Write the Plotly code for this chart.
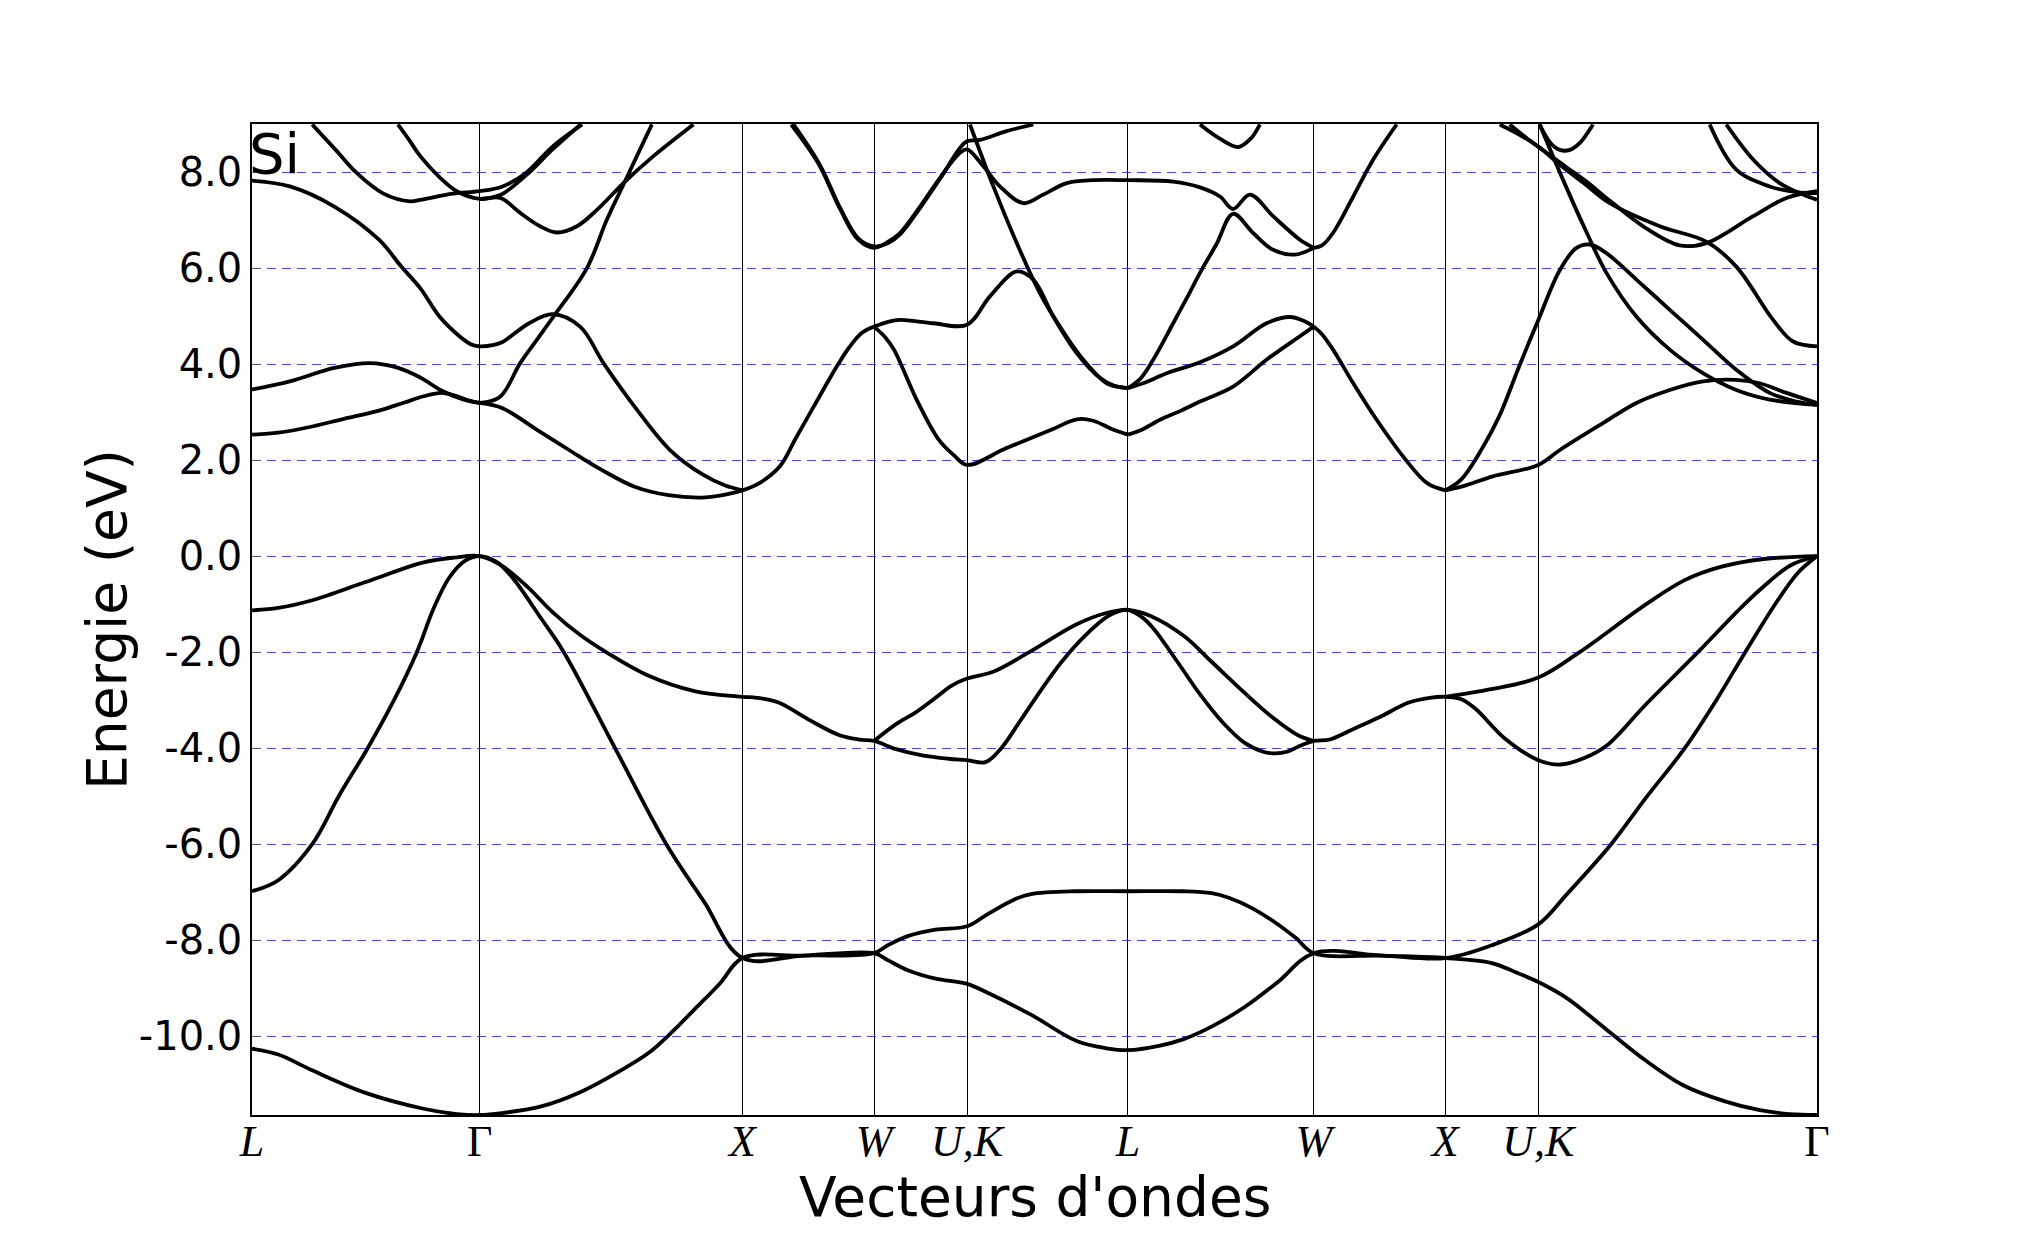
import plotly.graph_objects as go

# high-symmetry points along the path (units of 2*pi/a)
kpoint_pos = [0.0, 0.866, 1.866, 2.366, 2.720, 3.332, 4.039, 4.539, 4.893, 5.953]
kpoint_lbl = ["<i>L</i>", "Γ", "<i>X</i>", "<i>W</i>", "<i>U,K</i>",
              "<i>L</i>", "<i>W</i>", "<i>X</i>", "<i>U,K</i>", "Γ"]

energy_ticks = [-10, -8, -6, -4, -2, 0, 2, 4, 6, 8]
energy_lbl = ["-10.0", "-8.0", "-6.0", "-4.0", "-2.0", "0.0", "2.0", "4.0", "6.0", "8.0"]

# ---- valence bands (k, E in eV) ----
v1 = [(0.0, -10.26), (0.1, -10.38), (0.229, -10.71), (0.432, -11.18), (0.653, -11.51), (0.78, -11.62), (0.866, -11.64),
      (0.95, -11.6), (1.1, -11.46), (1.246, -11.17), (1.4, -10.72), (1.508, -10.35), (1.6, -9.9), (1.683, -9.44),
      (1.78, -8.9), (1.866, -8.37), (2.1, -8.32), (2.366, -8.27), (2.42, -8.42), (2.497, -8.63), (2.6, -8.8),
      (2.72, -8.91), (2.8, -9.1), (2.963, -9.55), (3.137, -10.1), (3.25, -10.25), (3.332, -10.29), (3.45, -10.2),
      (3.544, -10.06), (3.65, -9.8), (3.776, -9.39), (3.9, -8.88), (4.039, -8.27), (4.3, -8.32), (4.539, -8.37),
      (4.713, -8.47), (4.8, -8.65), (4.893, -8.87), (5.0, -9.2), (5.152, -9.86), (5.3, -10.5), (5.444, -11.02),
      (5.6, -11.35), (5.736, -11.54), (5.85, -11.62), (5.953, -11.64)]

v2 = [(0.0, -6.98), (0.1, -6.75), (0.229, -6.0), (0.33, -5.0), (0.44, -4.0), (0.54, -3.0), (0.627, -2.0),
      (0.69, -1.1), (0.75, -0.45), (0.81, -0.1), (0.866, 0.0), (0.93, -0.12), (0.991, -0.45), (1.1, -1.3),
      (1.186, -2.0), (1.381, -4.0), (1.576, -6.0), (1.72, -7.2), (1.866, -8.37), (2.1, -8.32), (2.366, -8.27),
      (2.42, -8.1), (2.497, -7.91), (2.6, -7.78), (2.72, -7.71), (2.8, -7.45), (2.9, -7.15), (2.963, -7.04),
      (3.137, -6.98), (3.332, -6.98), (3.544, -6.98), (3.65, -7.02), (3.718, -7.12), (3.8, -7.32), (3.892, -7.63),
      (3.97, -7.95), (4.039, -8.27), (4.3, -8.32), (4.539, -8.37), (4.713, -8.11), (4.893, -7.67), (5.0, -7.05),
      (5.17, -6.0), (5.3, -5.05), (5.45, -4.0), (5.57, -3.0), (5.68, -2.0), (5.8, -0.95), (5.88, -0.35), (5.953, 0.0)]

v3 = [(0.0, -1.13), (0.1, -1.08), (0.229, -0.92), (0.432, -0.54), (0.653, -0.13), (0.77, -0.03), (0.866, 0.0),
      (0.95, -0.2), (1.05, -0.65), (1.14, -1.15), (1.25, -1.65), (1.347, -2.0), (1.5, -2.47), (1.683, -2.81),
      (1.866, -2.93), (1.92, -2.95), (2.003, -3.05), (2.119, -3.41), (2.235, -3.73), (2.31, -3.82), (2.366, -3.85),
      (2.45, -4.02), (2.55, -4.15), (2.65, -4.22), (2.72, -4.25), (2.79, -4.29), (2.85, -4.0), (2.92, -3.45),
      (3.0, -2.8), (3.08, -2.2), (3.17, -1.65), (3.253, -1.26), (3.3, -1.14), (3.332, -1.12), (3.38, -1.25),
      (3.428, -1.5), (3.52, -2.2), (3.602, -2.85), (3.69, -3.45), (3.776, -3.89), (3.85, -4.08), (3.892, -4.11),
      (3.94, -4.07), (3.979, -3.97), (4.039, -3.85), (4.1, -3.82), (4.19, -3.6), (4.29, -3.35), (4.4, -3.05),
      (4.48, -2.95), (4.539, -2.93), (4.6, -2.98), (4.652, -3.17), (4.768, -3.81), (4.893, -4.25), (4.978, -4.34),
      (5.07, -4.2), (5.152, -3.95), (5.3, -3.1), (5.5, -2.0), (5.65, -1.15), (5.736, -0.7), (5.85, -0.2), (5.953, 0.0)]

v4_a = [(2.366, -3.85), (2.45, -3.5), (2.526, -3.25), (2.6, -2.95), (2.66, -2.7), (2.72, -2.55), (2.819, -2.41),
        (2.963, -1.98), (3.137, -1.42), (3.253, -1.18), (3.332, -1.12), (3.42, -1.25), (3.544, -1.66), (3.65, -2.2),
        (3.776, -2.85), (3.88, -3.35), (3.979, -3.73), (4.039, -3.85)]
v4_b = [(4.539, -2.93), (4.713, -2.77), (4.893, -2.53), (5.05, -2.0), (5.298, -1.02), (5.45, -0.5), (5.59, -0.22),
        (5.75, -0.06), (5.953, 0.0)]

# ---- conduction bands ----
c01 = [(0.0, 2.53), (0.1, 2.57), (0.229, 2.70), (0.35, 2.86), (0.483, 3.03), (0.58, 3.2), (0.653, 3.33),
       (0.72, 3.40), (0.78, 3.33), (0.83, 3.23), (0.866, 3.19)]
c02 = [(0.0, 3.47), (0.144, 3.64), (0.313, 3.92), (0.449, 4.02), (0.55, 3.93), (0.64, 3.72), (0.72, 3.45),
       (0.8, 3.27), (0.866, 3.19)]
c03 = [(0.0, 7.82), (0.144, 7.70), (0.313, 7.28), (0.483, 6.59), (0.568, 6.03), (0.64, 5.58), (0.713, 4.99),
       (0.789, 4.58), (0.83, 4.42), (0.866, 4.37), (0.92, 4.40), (0.953, 4.46), (1.054, 4.85), (1.143, 5.04),
       (1.248, 4.78), (1.337, 4.02), (1.464, 3.05), (1.590, 2.21), (1.717, 1.69), (1.8, 1.47), (1.866, 1.37)]
c04 = [(0.866, 3.19), (0.953, 3.08), (1.084, 2.63), (1.206, 2.21), (1.332, 1.79), (1.458, 1.44), (1.584, 1.27),
       (1.71, 1.22), (1.79, 1.27), (1.866, 1.37)]
c05 = [(0.866, 3.19), (0.944, 3.32), (1.020, 4.02), (1.084, 4.51), (1.147, 4.99), (1.274, 6.0), (1.350, 7.01),
       (1.413, 7.74), (1.464, 8.33), (1.521, 8.99)]
c06 = [(0.555, 8.99), (0.60, 8.65), (0.640, 8.33), (0.716, 7.88), (0.779, 7.60), (0.866, 7.44), (0.944, 7.46),
       (1.020, 7.15), (1.096, 6.87), (1.160, 6.74), (1.236, 6.87), (1.312, 7.21), (1.413, 7.77), (1.527, 8.33),
       (1.679, 8.99)]
c07 = [(0.229, 8.99), (0.32, 8.45), (0.398, 7.98), (0.5, 7.55), (0.602, 7.39), (0.64, 7.42), (0.764, 7.55),
       (0.866, 7.60), (0.953, 7.70), (1.042, 7.98), (1.143, 8.53), (1.256, 8.99)]
c08 = [(0.866, 7.44), (0.944, 7.52), (1.042, 7.93), (1.143, 8.47), (1.25, 8.99)]
c09 = [(1.866, 1.37), (1.93, 1.52), (2.008, 1.87), (2.068, 2.45), (2.13, 3.05), (2.187, 3.6), (2.23, 4.0),
       (2.272, 4.35), (2.32, 4.65), (2.366, 4.78)]
c10 = [(2.366, 4.78), (2.42, 4.88), (2.465, 4.92), (2.592, 4.85), (2.72, 4.82), (2.807, 5.41), (2.909, 5.93),
       (2.972, 5.76), (3.048, 4.99), (3.137, 4.23), (3.226, 3.71), (3.28, 3.55), (3.332, 3.50)]
c11 = [(2.366, 4.78), (2.41, 4.55), (2.442, 4.30), (2.528, 3.26), (2.613, 2.42), (2.67, 2.1), (2.72, 1.90),
       (2.87, 2.25), (3.04, 2.63), (3.137, 2.85), (3.2, 2.82), (3.27, 2.65), (3.332, 2.53)]
c12 = [(2.051, 8.99), (2.153, 8.19), (2.238, 7.22), (2.306, 6.59), (2.366, 6.42), (2.42, 6.55), (2.465, 6.73),
       (2.541, 7.28), (2.617, 7.88), (2.693, 8.40), (2.72, 8.47), (2.782, 8.12), (2.845, 7.70), (2.934, 7.35),
       (3.010, 7.53), (3.099, 7.77), (3.2, 7.83), (3.332, 7.83), (3.504, 7.80), (3.606, 7.68), (3.682, 7.49),
       (3.732, 7.23), (3.796, 7.53), (3.884, 7.08), (3.986, 6.59), (4.039, 6.42)]
c13 = [(2.06, 8.99), (2.16, 8.15), (2.24, 7.22), (2.306, 6.62), (2.366, 6.45), (2.42, 6.52), (2.465, 6.70),
       (2.541, 7.25), (2.617, 7.86), (2.693, 8.50), (2.72, 8.64), (2.77, 8.67), (2.87, 8.85), (2.972, 8.99)]
c14 = [(2.731, 8.99), (2.820, 7.70), (2.909, 6.52), (2.997, 5.48), (3.073, 4.78), (3.162, 4.09), (3.251, 3.60),
       (3.30, 3.52), (3.332, 3.50)]
c15 = [(3.332, 3.50), (3.38, 3.7), (3.428, 4.09), (3.504, 4.85), (3.568, 5.5), (3.606, 5.9), (3.669, 6.5),
       (3.732, 7.13), (3.808, 6.73), (3.884, 6.38), (3.967, 6.28), (4.039, 6.42)]
c16 = [(3.332, 3.50), (3.40, 3.62), (3.479, 3.81), (3.606, 4.04), (3.732, 4.37), (3.859, 4.85), (3.948, 4.98),
       (4.0, 4.9), (4.039, 4.78)]
c17 = [(3.332, 2.53), (3.38, 2.62), (3.454, 2.84), (3.53, 3.02), (3.606, 3.22), (3.732, 3.53), (3.859, 4.09),
       (3.986, 4.58), (4.039, 4.78)]
c18 = [(3.606, 8.99), (3.68, 8.7), (3.751, 8.52), (3.80, 8.7), (3.834, 8.99)]
c19 = [(4.039, 6.42), (4.07, 6.47), (4.112, 6.73), (4.189, 7.49), (4.265, 8.26), (4.354, 8.99)]
c20 = [(4.039, 4.78), (4.07, 4.62), (4.112, 4.30), (4.189, 3.60), (4.278, 2.84), (4.388, 2.01), (4.470, 1.52),
       (4.539, 1.37)]
c21 = [(4.539, 1.37), (4.6, 1.6), (4.68, 2.25), (4.744, 2.91), (4.820, 3.95), (4.893, 4.92), (4.975, 5.96),
       (5.038, 6.42), (5.089, 6.49), (5.152, 6.31), (5.266, 5.76), (5.393, 5.13), (5.519, 4.51), (5.646, 3.88),
       (5.773, 3.40), (5.875, 3.22), (5.953, 3.15)]
c22 = [(4.898, 8.99), (4.99, 7.8), (5.076, 6.75), (5.152, 5.9), (5.266, 4.99), (5.393, 4.30), (5.519, 3.81),
       (5.646, 3.46), (5.773, 3.26), (5.953, 3.15)]
c23 = [(4.539, 1.37), (4.62, 1.48), (4.72, 1.66), (4.893, 1.90), (4.975, 2.21), (5.139, 2.77), (5.266, 3.19),
       (5.393, 3.46), (5.519, 3.64), (5.646, 3.67), (5.735, 3.60), (5.837, 3.40), (5.953, 3.19)]
c24 = [(4.746, 8.99), (4.82, 8.78), (4.893, 8.53), (4.975, 8.15), (5.07, 7.75), (5.165, 7.35), (5.355, 6.87),
       (5.532, 6.55), (5.646, 6.03), (5.786, 4.92), (5.862, 4.47), (5.953, 4.37)]
c25 = [(4.784, 8.99), (4.85, 8.7), (4.924, 8.40), (5.0, 8.1), (5.076, 7.8), (5.165, 7.4), (5.305, 6.82),
       (5.431, 6.47), (5.532, 6.52), (5.710, 7.08), (5.837, 7.46), (5.953, 7.60)]
c26 = [(5.545, 8.99), (5.646, 8.05), (5.773, 7.70), (5.875, 7.58), (5.953, 7.56)]
c27 = [(5.608, 8.99), (5.710, 8.26), (5.811, 7.77), (5.900, 7.53), (5.953, 7.42)]
c28 = [(4.898, 8.99), (4.94, 8.6), (4.975, 8.46), (5.013, 8.46), (5.05, 8.6), (5.101, 8.99)]

bands = [v1, v2, v3, v4_a, v4_b,
         c01, c02, c03, c04, c05, c06, c07, c08, c09, c10, c11, c12, c13, c14,
         c15, c16, c17, c18, c19, c20, c21, c22, c23, c24, c25, c26, c27, c28]

fig = go.Figure()
for band in bands:
    fig.add_trace(go.Scatter(
        x=[p[0] for p in band],
        y=[p[1] for p in band],
        mode="lines",
        line=dict(color="black", width=3.8, shape="spline", smoothing=1.0),
        hoverinfo="skip",
        showlegend=False,
    ))

# material label in the top-left corner of the axes
fig.add_annotation(
    text="Si", xref="paper", yref="paper", x=0.0, y=1.0,
    xanchor="left", yanchor="top", showarrow=False, borderpad=0,
    xshift=-4, yshift=4,
    font=dict(family="DejaVu Sans", size=56, color="black"),
)

# axis titles placed as annotations so their position is exact
fig.add_annotation(
    text="Energie (eV)", xref="paper", yref="paper", x=-0.093, y=0.5,
    xanchor="center", yanchor="middle", textangle=-90, showarrow=False,
    font=dict(family="DejaVu Sans", size=55, color="black"),
)
fig.add_annotation(
    text="Vecteurs d'ondes", xref="paper", yref="paper", x=0.5, y=-0.083,
    xanchor="center", yanchor="middle", showarrow=False,
    font=dict(family="DejaVu Sans", size=55, color="black"),
)

fig.update_xaxes(
    range=[kpoint_pos[0], kpoint_pos[-1]],
    tickvals=kpoint_pos, ticktext=kpoint_lbl,
    tickfont=dict(family="Liberation Serif", size=44, color="black"),
    ticklabelstandoff=-14,
    showgrid=True, gridcolor="black", gridwidth=1,
    showline=True, linecolor="black", linewidth=1.5, mirror=True,
    ticks="", zeroline=False,
)
fig.update_yaxes(
    range=[-11.64, 9.0],
    tickvals=energy_ticks, ticktext=energy_lbl,
    tickfont=dict(family="DejaVu Sans", size=40, color="black"),
    showgrid=True, gridcolor="rgba(40,40,255,0.85)", gridwidth=1, griddash="9px,6px",
    showline=True, linecolor="black", linewidth=1.5, mirror=True,
    ticks="inside", ticklen=8, tickcolor="#555555",
    zeroline=False,
)

# page body adds an 8px margin, so the figure is a bit smaller than the window
fig.update_layout(
    width=2002, height=1224,
    margin=dict(l=244, r=193, t=116, b=117),
    paper_bgcolor="white", plot_bgcolor="white",
)

fig.write_html("out.html")
